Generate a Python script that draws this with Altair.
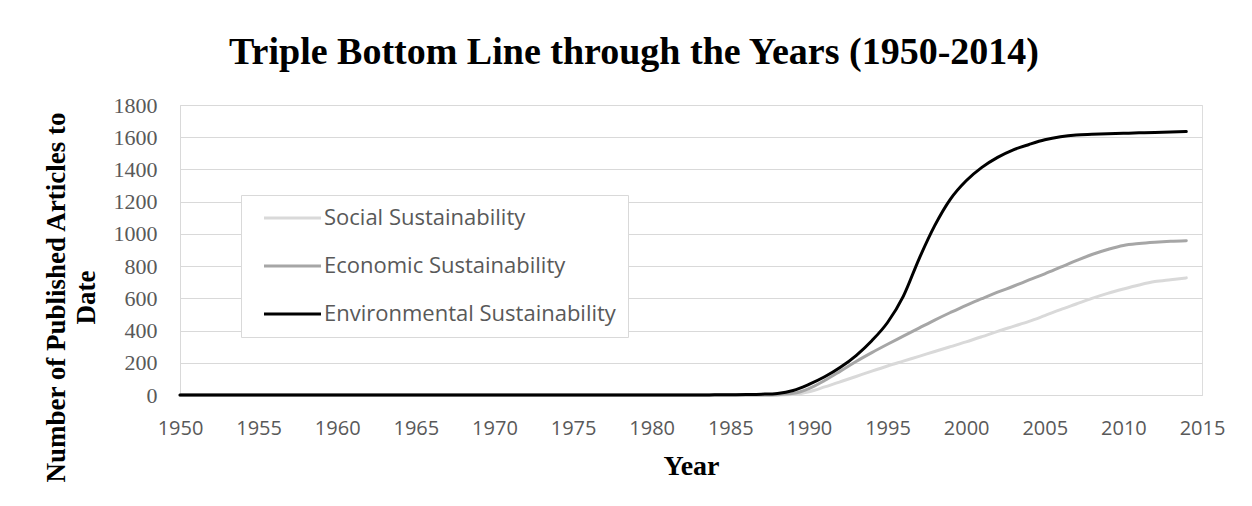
import altair as alt
import pandas as pd

# ---------------- data ----------------
years = [
    1950, 1951, 1952, 1953, 1954, 1955, 1956, 1957, 1958, 1959,
    1960, 1961, 1962, 1963, 1964, 1965, 1966, 1967, 1968, 1969,
    1970, 1971, 1972, 1973, 1974, 1975, 1976, 1977, 1978, 1979,
    1980, 1981, 1982, 1983, 1984, 1985, 1986, 1987, 1988, 1989,
    1990, 1991, 1992, 1993, 1994, 1995, 1996, 1997, 1998, 1999,
    2000, 2001, 2002, 2003, 2004, 2005, 2006, 2007, 2008, 2009,
    2010, 2011, 2012, 2013, 2014,
]

social = [
    0, 0, 0, 0, 0, 0, 0, 0, 0, 0,
    0, 0, 0, 0, 0, 0, 0, 0, 0, 0,
    0, 0, 0, 0, 0, 0, 0, 0, 0, 0,
    0, 0, 0, 0, 0, 0, 0, 0, 0, 3,
    20, 50, 82, 115, 148, 180, 210, 240, 270, 300,
    330, 362, 395, 426, 457, 493, 530, 565, 600, 631,
    658, 683, 704, 716, 727,
]

economic = [
    0, 0, 0, 0, 0, 0, 0, 0, 0, 0,
    0, 0, 0, 0, 0, 0, 0, 0, 0, 0,
    0, 0, 0, 0, 0, 0, 0, 0, 0, 0,
    0, 0, 0, 0, 0, 0, 0, 0, 2, 10,
    40, 90, 148, 208, 263, 315, 365, 415, 465, 512,
    557, 598, 638, 675, 714, 752, 793, 834, 872, 903,
    928, 940, 948, 954, 958,
]

environmental = [
    0, 0, 0, 0, 0, 0, 0, 0, 0, 0,
    0, 0, 0, 0, 0, 0, 0, 0, 0, 0,
    0, 0, 0, 0, 0, 0, 0, 0, 0, 0,
    0, 0, 0, 0, 1, 2, 3, 5, 10, 28,
    66, 113, 172, 245, 337, 450, 612, 844, 1051, 1216,
    1330, 1413, 1475, 1522, 1555, 1584, 1603, 1614, 1618, 1621,
    1624, 1627, 1630, 1632, 1635,
]

series_names = ["Social Sustainability", "Economic Sustainability", "Environmental Sustainability"]
series_colors = ["#d9d9d9", "#a6a6a6", "#000000"]

x_ticks = [1950, 1955, 1960, 1965, 1970, 1975, 1980, 1985, 1990, 1995, 2000, 2005, 2010, 2015]
y_ticks = [0, 200, 400, 600, 800, 1000, 1200, 1400, 1600, 1800]

title_text = "Triple Bottom Line through the Years (1950-2014)"
x_title = "Year"
y_title = ["Number of Published Articles to", "Date"]

# ---------------- table ----------------
rows = []
for name, vals in zip(series_names, [social, economic, environmental]):
    for yr, v in zip(years, vals):
        rows.append({"Year": yr, "Articles": v, "Series": name})
df = pd.DataFrame(rows)

# ---------------- chart ----------------
chart = (
    alt.Chart(df)
    .mark_line(strokeWidth=3, interpolate="monotone", strokeCap="round")
    .encode(
        x=alt.X(
            "Year:Q",
            scale=alt.Scale(domain=[1950, 2015], nice=False, zero=False),
            axis=alt.Axis(
                values=x_ticks,
                format="d",
                title=x_title,
                grid=False,
                ticks=False,
                domainColor="#d9d9d9",
                domainWidth=1,
                labelFont="Open Sans",
                labelFontSize=20,
                labelColor="#595959",
                labelPadding=23,
                labelFlush=False,
                titleFont="Liberation Serif",
                titleFontSize=28,
                titleFontWeight="bold",
                titleColor="black",
                titlePadding=14,
            ),
        ),
        y=alt.Y(
            "Articles:Q",
            scale=alt.Scale(domain=[0, 1800], nice=False),
            axis=alt.Axis(
                values=y_ticks,
                format="d",
                title=y_title,
                grid=True,
                gridColor="#d9d9d9",
                gridWidth=1,
                ticks=False,
                domainColor="#d9d9d9",
                domainWidth=1,
                labelFont="Liberation Serif",
                labelFontSize=22,
                labelColor="#595959",
                labelPadding=23,
                titleFont="Liberation Serif",
                titleFontSize=27,
                titleFontWeight="bold",
                titleColor="black",
                titleAngle=270,
                titleAlign="center",
                titleBaseline="middle",
                titleLineHeight=30,
                titleX=-124,
                titleY=192,
            ),
        ),
        color=alt.Color(
            "Series:N",
            sort=series_names,
            scale=alt.Scale(domain=series_names, range=series_colors),
            legend=alt.Legend(
                title=None,
                orient="none",
                legendX=61,
                legendY=90,
                direction="vertical",
                symbolType="M0,0H8",
                symbolSize=203,
                symbolStrokeWidth=3,
                labelFont="Open Sans",
                labelFontSize=22,
                labelColor="#595959",
                labelOffset=49,
                labelLimit=500,
                rowPadding=26,
                padding=12,
                fillColor="white",
                strokeColor="#d9d9d9",
            ),
        ),
    )
    .properties(
        width=1022,
        height=290,
        title=alt.TitleParams(
            text=title_text,
            font="Liberation Serif",
            fontSize=38,
            fontWeight="bold",
            color="black",
            anchor="middle",
            dx=-57,
            offset=22,
        ),
        autosize=alt.AutoSizeParams(type="none"),
        padding={"left": 180, "top": 105, "right": 50, "bottom": 111},
    )
    .configure_view(stroke=None)
    .configure(background="white")
)

chart.save("out.html", embed_options={"renderer": "svg", "actions": False})
